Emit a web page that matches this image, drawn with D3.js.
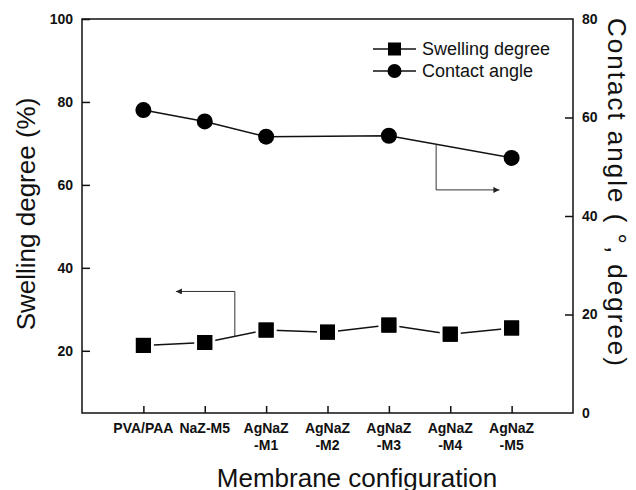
<!DOCTYPE html>
<html>
<head>
<meta charset="utf-8">
<script src="https://cdn.jsdelivr.net/npm/d3@7"></script>
<style>
  body { margin: 0; background: #fff; }
  svg { display: block; font-family: "Liberation Sans", Arial, Helvetica, sans-serif; }
</style>
</head>
<body>
<svg id="chart" width="636" height="490"></svg>
<script>
// ---- data ----
const categories = ["PVA/PAA", "NaZ-M5", "AgNaZ-M1", "AgNaZ-M2", "AgNaZ-M3", "AgNaZ-M4", "AgNaZ-M5"];
const categoryLabels = [["PVA/PAA"], ["NaZ-M5"], ["AgNaZ", "-M1"], ["AgNaZ", "-M2"], ["AgNaZ", "-M3"], ["AgNaZ", "-M4"], ["AgNaZ", "-M5"]];
const swellingDegree = [21.3, 22.0, 25.0, 24.5, 26.2, 24.0, 25.5];
const contactCategories = ["PVA/PAA", "NaZ-M5", "AgNaZ-M1", "AgNaZ-M3", "AgNaZ-M5"];
const contactAngle = [61.5, 59.2, 56.1, 56.3, 51.8];
const leftTicks = [20, 40, 60, 80, 100];
const rightTicks = [0, 20, 40, 60, 80];
const leftDomain = [5, 100];
const rightDomain = [0, 80];

// ---- layout ----
const svg = d3.select("#chart");
const L = 82, R = 573, T = 19, B = 413;

const x = d3.scalePoint().domain(categories).range([L, R]).padding(1);
const yL = d3.scaleLinear().domain(leftDomain).range([B, T]);
const yR = d3.scaleLinear().domain(rightDomain).range([B, T]);
const xi = d3.scaleLinear().domain([0, categories.length - 1]).range([x(categories[0]), x(categories[categories.length - 1])]);

// frame
svg.append("rect").attr("x", L).attr("y", T).attr("width", R - L).attr("height", B - T)
  .attr("fill", "none").attr("stroke", "#111").attr("stroke-width", 1.5);

// left axis (ticks inward)
const axL = svg.append("g").attr("transform", `translate(${L},0)`)
  .call(d3.axisRight(yL).tickValues(leftTicks).tickSize(8).tickFormat(d3.format("d")));
axL.select(".domain").remove();
axL.selectAll(".tick line").attr("stroke", "#111").attr("stroke-width", 1.5);
axL.selectAll(".tick text").attr("x", -9).attr("text-anchor", "end")
  .attr("font-size", 14).attr("font-weight", "bold").attr("fill", "#111");

// right axis (ticks inward)
const axR = svg.append("g").attr("transform", `translate(${R},0)`)
  .call(d3.axisLeft(yR).tickValues(rightTicks).tickSize(8).tickFormat(d3.format("d")));
axR.select(".domain").remove();
axR.selectAll(".tick line").attr("stroke", "#111").attr("stroke-width", 1.5);
axR.selectAll(".tick text").attr("x", 9).attr("text-anchor", "start")
  .attr("font-size", 14).attr("font-weight", "bold").attr("fill", "#111");
axR.selectAll(".tick").filter(d => d === 80 || d === 0).select("line").remove();

// bottom axis (ticks inward)
const axB = svg.append("g").attr("transform", `translate(0,${B})`)
  .call(d3.axisTop(x).tickSize(7).tickFormat(""));
axB.select(".domain").remove();
axB.selectAll(".tick line").attr("stroke", "#111").attr("stroke-width", 1.5);
const xl = svg.append("g");
categories.forEach((c, i) => {
  const t = xl.append("text").attr("x", x(c)).attr("y", 433)
    .attr("text-anchor", "middle").attr("font-size", 14).attr("font-weight", "bold").attr("fill", "#111");
  categoryLabels[i].forEach((s, j) => {
    t.append("tspan").attr("x", x(c)).attr("dy", j === 0 ? 0 : 17).text(s);
  });
});

// axis titles
svg.append("text").attr("transform", "translate(35,214) rotate(-90)")
  .attr("text-anchor", "middle").attr("font-size", 26).attr("fill", "#111").text("Swelling degree (%)");
svg.append("text").attr("transform", "translate(608,192) rotate(90)")
  .attr("text-anchor", "middle").attr("font-size", 26).attr("fill", "#111")
  .attr("textLength", 348).attr("lengthAdjust", "spacing")
  .text("Contact angle ( °, degree)");
svg.append("text").attr("x", 357).attr("y", 487)
  .attr("text-anchor", "middle").attr("font-size", 26).attr("fill", "#111").text("Membrane configuration");

// contact angle series
const cData = contactCategories.map((c, i) => ({ c, v: contactAngle[i] }));
svg.append("path").datum(cData)
  .attr("d", d3.line().x(d => x(d.c)).y(d => yR(d.v)))
  .attr("fill", "none").attr("stroke", "#111").attr("stroke-width", 1.5);
svg.selectAll("circle.ca").data(cData).join("circle").attr("class", "ca")
  .attr("cx", d => x(d.c)).attr("cy", d => yR(d.v)).attr("r", 8).attr("fill", "#000");

// swelling series
const sData = categories.map((c, i) => ({ c, v: swellingDegree[i] }));
svg.append("path").datum(sData)
  .attr("d", d3.line().x(d => x(d.c)).y(d => yL(d.v)))
  .attr("fill", "none").attr("stroke", "#111").attr("stroke-width", 1.5);

// annotation arrows
const defs = svg.append("defs");
defs.append("marker").attr("id", "ah").attr("viewBox", "0 0 10 10").attr("refX", 10).attr("refY", 5)
  .attr("markerWidth", 10).attr("markerHeight", 6).attr("markerUnits", "userSpaceOnUse").attr("orient", "auto")
  .append("path").attr("d", "M0,0L10,5L0,10Z").attr("fill", "#222");

// contact arrow: from line down, then right
const ciA = 4.77, ciB = 5.8, cLevel = 45.3;
const lineAt = (idx) => { // interpolate contact line at fractional category index
  const pts = cData.map(d => [categories.indexOf(d.c), d.v]);
  for (let k = 0; k < pts.length - 1; k++) {
    if (idx >= pts[k][0] && idx <= pts[k + 1][0]) {
      const f = (idx - pts[k][0]) / (pts[k + 1][0] - pts[k][0]);
      return pts[k][1] + f * (pts[k + 1][1] - pts[k][1]);
    }
  }
  return pts[pts.length - 1][1];
};
svg.append("path")
  .attr("d", `M${xi(ciA)},${yR(lineAt(ciA))}V${yR(cLevel)}H${xi(ciB)}`)
  .attr("fill", "none").attr("stroke", "#333").attr("stroke-width", 1).attr("marker-end", "url(#ah)");

// swelling arrow: from line up, then left
const siA = 1.49, siB = 0.53, sLevel = 34.3;
const sAt = (idx) => {
  const k = Math.min(Math.floor(idx), sData.length - 2);
  const f = idx - k;
  return swellingDegree[k] + f * (swellingDegree[k + 1] - swellingDegree[k]);
};
svg.append("path")
  .attr("d", `M${xi(siA)},${yL(sAt(siA))}V${yL(sLevel)}H${xi(siB)}`)
  .attr("fill", "none").attr("stroke", "#333").attr("stroke-width", 1).attr("marker-end", "url(#ah)");

// squares (white halo creates gap in line)
svg.selectAll("rect.sq").data(sData).join("rect").attr("class", "sq")
  .attr("x", d => x(d.c) - 7.5).attr("y", d => yL(d.v) - 7.5).attr("width", 15).attr("height", 15)
  .attr("fill", "#000").attr("stroke", "#fff").attr("stroke-width", 6).attr("paint-order", "stroke");
svg.selectAll("rect.sq2").data(sData).join("rect").attr("class", "sq2")
  .attr("x", d => x(d.c) - 7.5).attr("y", d => yL(d.v) - 7.5).attr("width", 15).attr("height", 15)
  .attr("fill", "#000");

// legend
const lg = svg.append("g");
const legendItems = [{ label: "Swelling degree", shape: "square", y: 49 }, { label: "Contact angle", shape: "circle", y: 71 }];
legendItems.forEach(it => {
  lg.append("line").attr("x1", 373).attr("x2", 416).attr("y1", it.y).attr("y2", it.y)
    .attr("stroke", "#111").attr("stroke-width", 1.5);
  if (it.shape === "square") {
    lg.append("rect").attr("x", 394.5 - 6.5).attr("y", it.y - 6.5).attr("width", 13).attr("height", 13).attr("fill", "#000");
  } else {
    lg.append("circle").attr("cx", 394.5).attr("cy", it.y).attr("r", 7).attr("fill", "#000");
  }
  lg.append("text").attr("x", 422).attr("y", it.y).attr("dy", "0.35em")
    .attr("font-size", 18).attr("fill", "#111").text(it.label);
});
</script>
</body>
</html>
